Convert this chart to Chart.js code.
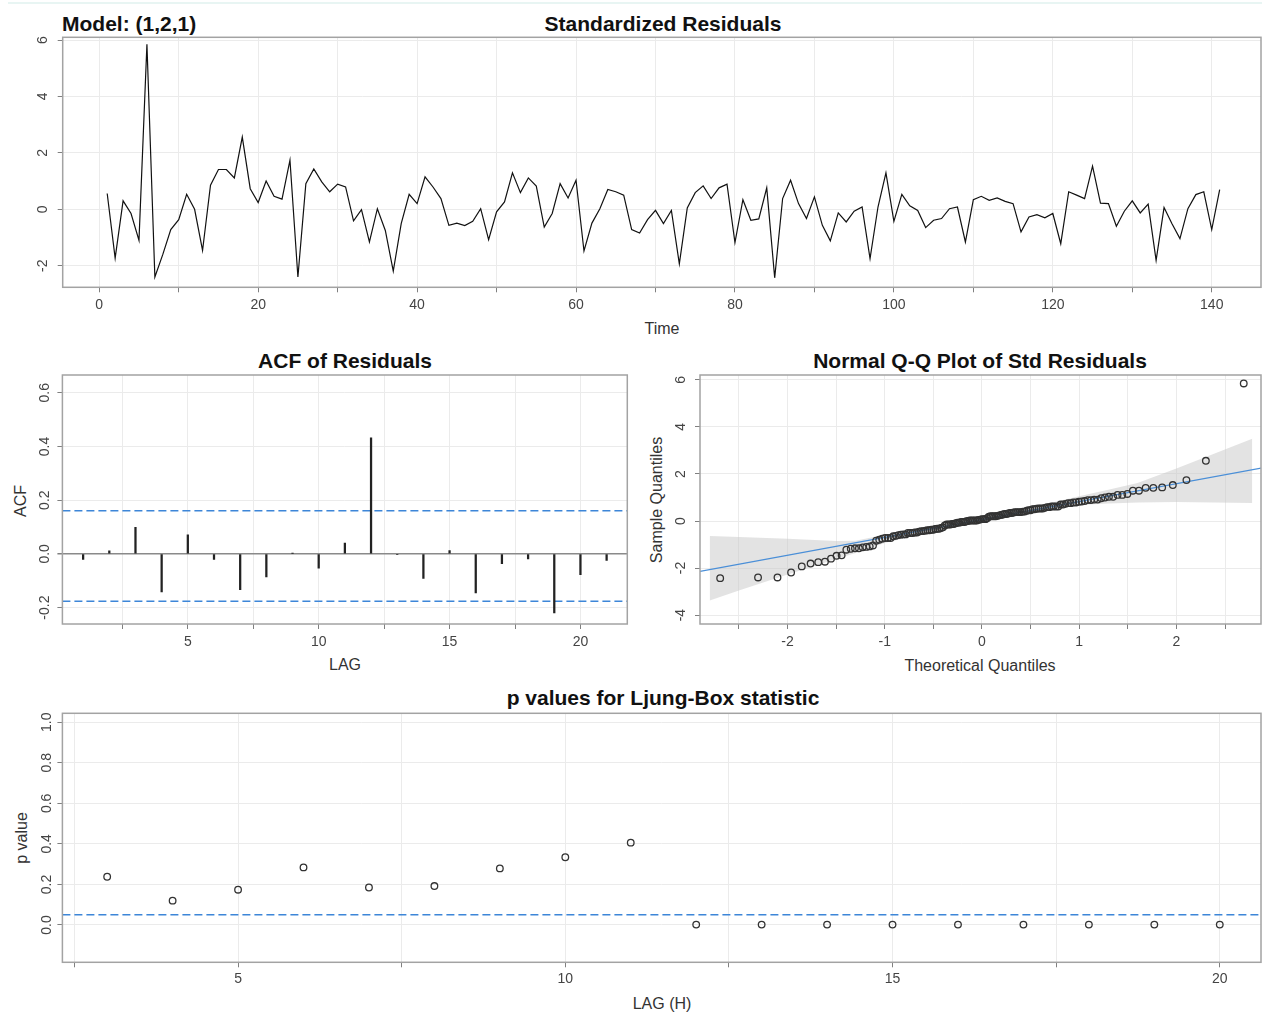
<!DOCTYPE html>
<html>
<head>
<meta charset="utf-8">
<script src="https://cdn.jsdelivr.net/npm/chart.js@4.4.1/dist/chart.umd.min.js"></script>
<style>
  html, body { margin: 0; padding: 0; background: #fff; }
  body { width: 1262px; height: 1015px; position: relative; overflow: hidden;
         font-family: "Liberation Sans", Arial, sans-serif; }
  canvas { position: absolute; }
  .lbl { position: absolute; white-space: nowrap; line-height: 1; transform: translate(-50%, -50%); }
  .ttl { font-weight: bold; font-size: 21px; color: #111; }
  .ax { font-size: 16px; color: #333; }
  .rot { transform: translate(-50%, -50%) rotate(-90deg); }
</style>
</head>
<body>
<div style="position:absolute;left:8px;top:2px;width:1254px;height:2px;background:#e8f5f3"></div>

<div class="lbl ttl" style="left:62px;top:23px;transform:translate(0,-50%)">Model: (1,2,1)</div>
<div class="lbl ttl" style="left:663px;top:23px">Standardized Residuals</div>
<div class="lbl ax" style="left:662px;top:329px">Time</div>

<div class="lbl ttl" style="left:345px;top:360px">ACF of Residuals</div>
<div class="lbl ax" style="left:345px;top:665px">LAG</div>
<div class="lbl ax rot" style="left:21px;top:501px">ACF</div>

<div class="lbl ttl" style="left:980px;top:360px">Normal Q-Q Plot of Std Residuals</div>
<div class="lbl ax" style="left:980px;top:666px">Theoretical Quantiles</div>
<div class="lbl ax rot" style="left:657px;top:500px">Sample Quantiles</div>

<div class="lbl ttl" style="left:663px;top:697px">p values for Ljung-Box statistic</div>
<div class="lbl ax" style="left:662px;top:1004px">LAG (H)</div>
<div class="lbl ax rot" style="left:22px;top:838px">p value</div>

<canvas id="cRes" width="1262" height="320" style="left:0;top:30px"></canvas>
<canvas id="cAcf" width="640" height="300" style="left:0;top:370px"></canvas>
<canvas id="cQQ" width="622" height="300" style="left:640px;top:370px"></canvas>
<canvas id="cLB" width="1262" height="300" style="left:0;top:705px"></canvas>

<script>
/* standardized residuals, t = 1..141 */
var residuals = [
  0.56, -1.73, 0.30, -0.15, -1.10, 5.85, -2.40, -1.60, -0.72, -0.37,
  0.53, 0.00, -1.46, 0.85, 1.41, 1.41, 1.11, 2.56, 0.73, 0.24,
  1.00, 0.46, 0.36, 1.74, -2.40, 0.91, 1.43, 0.97, 0.62, 0.89,
  0.79, -0.41, -0.01, -1.16, 0.02, -0.75, -2.19, -0.51, 0.53, 0.20,
  1.15, 0.79, 0.38, -0.57, -0.49, -0.58, -0.43, 0.02, -1.08, -0.09,
  0.26, 1.29, 0.59, 1.11, 0.82, -0.63, -0.15, 0.91, 0.40, 1.03,
  -1.48, -0.49, 0.02, 0.70, 0.62, 0.50, -0.72, -0.84, -0.37, -0.04,
  -0.51, -0.04, -1.93, 0.05, 0.59, 0.83, 0.38, 0.76, 0.89, -1.18,
  0.34, -0.39, -0.34, 0.76, -2.43, 0.38, 1.03, 0.20, -0.33, 0.44,
  -0.57, -1.12, -0.13, -0.45, -0.07, 0.08, -1.75, 0.08, 1.29, -0.43,
  0.53, 0.12, -0.04, -0.65, -0.39, -0.33, 0.02, 0.08, -1.16, 0.34,
  0.46, 0.32, 0.40, 0.28, 0.20, -0.80, -0.27, -0.19, -0.30, -0.15,
  -1.22, 0.62, 0.50, 0.38, 1.53, 0.22, 0.20, -0.60, -0.07, 0.30,
  -0.13, 0.18, -1.81, 0.06, -0.51, -1.04, 0.02, 0.52, 0.62, -0.72,
  0.70
];

/* ACF of residuals */
var acfLags = [1, 2, 3, 4, 5, 6, 7, 8, 9, 10, 11, 12, 13, 14, 15, 16, 17, 18, 19, 20, 21];
var acfValues = [-0.021, 0.011, 0.099, -0.142, 0.071, -0.021, -0.133, -0.086, 0.002, -0.053,
                 0.040, 0.432, -0.003, -0.091, 0.012, -0.145, -0.036, -0.019, -0.220, -0.077, -0.024];
var acfBounds = [0.161, -0.176];

/* Q-Q reference line and its grey band */
var qqLineX = [-2.90, 2.88];
var qqLineY = [-2.14, 2.26];
var bandX     = [-2.80, -2.5, -2.0, -1.5, -1.3, -1.0, -0.5, 0.0, 0.5, 1.0, 1.3, 1.6, 2.0, 2.4, 2.78];
var bandUpper = [-0.64, -0.68, -0.75, -0.85, -0.84, -0.58, -0.19, 0.18, 0.57, 1.05, 1.33, 1.62, 2.23, 2.88, 3.50];
var bandLower = [-3.38, -2.96, -2.28, -1.62, -1.36, -0.94, -0.42, 0.00, 0.36, 0.68, 0.75, 0.79, 0.81, 0.79, 0.77];

/* Ljung-Box p values */
var lbLags = [3, 4, 5, 6, 7, 8, 9, 10, 11, 12, 13, 14, 15, 16, 17, 18, 19, 20];
var lbPValues = [0.238, 0.120, 0.174, 0.284, 0.185, 0.192, 0.279, 0.334, 0.406,
                 0.002, 0.002, 0.002, 0.002, 0.002, 0.002, 0.002, 0.002, 0.002];
var lbLevel = 0.05;

var GRID = '#ebebeb', TICK = '#808080', FRAME = '#a3a3a3', INK = '#444', BLUE = '#3d86d8';
var tickFont = { family: 'Liberation Sans, Arial, sans-serif', size: 14 };

/* box around each plot area */
var framePlugin = {
  id: 'frame',
  afterDatasetsDraw: function (chart) {
    var a = chart.chartArea, ctx = chart.ctx;
    ctx.save();
    ctx.strokeStyle = FRAME;
    ctx.lineWidth = 1.5;
    ctx.strokeRect(a.left, a.top, a.right - a.left, a.bottom - a.top);
    ctx.restore();
  }
};

function onEvery(v, every) {
  return Math.abs(v / every - Math.round(v / every)) < 1e-9;
}

function xAxis(min, max, step, every, height, pad) {
  return {
    type: 'linear', min: min, max: max, offset: false,
    afterFit: function (s) { s.height = height; s.paddingLeft = 0; s.paddingRight = 0; },
    border: { display: false },
    grid: { color: GRID, tickColor: TICK, tickLength: 5, offset: false },
    ticks: {
      stepSize: step, includeBounds: false, autoSkip: false, maxRotation: 0,
      padding: pad, color: INK, font: tickFont,
      callback: function (v) { return onEvery(v, every) ? String(v) : ''; }
    }
  };
}

function yAxis(min, max, step, width, pad, digits, gridColor) {
  return {
    type: 'linear', min: min, max: max,
    afterFit: function (s) { s.width = width; s.paddingTop = 0; s.paddingBottom = 0; },
    border: { display: false },
    grid: { color: gridColor || GRID, tickColor: TICK, tickLength: 5,
            lineWidth: function (c) { return (gridColor && c.tick && c.tick.value === 0) ? 1.5 : 1; } },
    ticks: {
      stepSize: step, includeBounds: false, autoSkip: false,
      minRotation: 90, maxRotation: 90, crossAlign: 'center',
      padding: pad, color: INK, font: tickFont,
      callback: function (v) { return v.toFixed(digits); }
    }
  };
}

function makeChart(id, datasets, scales, padding) {
  return new Chart(document.getElementById(id), {
    type: 'scatter',
    data: { datasets: datasets },
    options: {
      responsive: false, animation: false, devicePixelRatio: 1,
      layout: { padding: padding, autoPadding: false },
      plugins: { legend: { display: false }, tooltip: { enabled: false } },
      scales: scales
    },
    plugins: [framePlugin]
  });
}

function hline(x0, x1, y, color, dash, width) {
  return {
    data: [{ x: x0, y: y }, { x: x1, y: y }],
    showLine: true, pointRadius: 0, borderColor: color, borderWidth: width || 1.5,
    borderDash: dash || []
  };
}

/* normal quantile (Acklam), used for the theoretical quantiles of the Q-Q plot */
function qnorm(p) {
  var a = [-39.69683028665376, 220.9460984245205, -275.9285104469687, 138.3577518672690, -30.66479806614716, 2.506628277459239];
  var b = [-54.47609879822406, 161.5858368580409, -155.6989798598866, 66.80131188771972, -13.28068155288572];
  var c = [-0.007784894002430293, -0.3223964580411365, -2.400758277161838, -2.549732539343734, 4.374664141464968, 2.938163982698783];
  var d = [0.007784695709041462, 0.3224671290700398, 2.445134137142996, 3.754408661907416];
  var q, r;
  if (p < 0.02425) {
    q = Math.sqrt(-2 * Math.log(p));
    return (((((c[0] * q + c[1]) * q + c[2]) * q + c[3]) * q + c[4]) * q + c[5]) /
           ((((d[0] * q + d[1]) * q + d[2]) * q + d[3]) * q + 1);
  }
  if (p > 1 - 0.02425) return -qnorm(1 - p);
  q = p - 0.5; r = q * q;
  return (((((a[0] * r + a[1]) * r + a[2]) * r + a[3]) * r + a[4]) * r + a[5]) * q /
         (((((b[0] * r + b[1]) * r + b[2]) * r + b[3]) * r + b[4]) * r + 1);
}

/* ---- standardized residuals ---- */
var resPoints = residuals.map(function (v, i) { return { x: i + 1, y: v }; });
makeChart('cRes', [
  { data: resPoints, showLine: true, pointRadius: 0, borderColor: '#111', borderWidth: 1.2 }
], {
  x: xAxis(-4.6, 146.2, 10, 20, 62.7, 4),
  y: yAxis(-2.766, 6.096, 2, 62.7, 8.5, 0)
}, { top: 7.3, right: 1, left: 0, bottom: 0 });

/* ---- ACF ---- */
var acfMin = 0.208, acfMax = 21.79;
makeChart('cAcf', [
  { type: 'bar', data: acfLags.map(function (l, i) { return { x: l, y: acfValues[i] }; }),
    backgroundColor: '#222', borderWidth: 0, barThickness: 1.6, order: 0 },
  Object.assign(hline(acfMin, acfMax, acfBounds[0], BLUE, [8, 4]), { order: 1 }),
  Object.assign(hline(acfMin, acfMax, acfBounds[1], BLUE, [8, 4]), { order: 1 })
], {
  x: xAxis(acfMin, acfMax, 2.5, 5, 46, 5),
  y: yAxis(-0.261, 0.666, 0.2, 62.4, 0, 1,
           function (c) { return c.tick && c.tick.value === 0 ? '#8a8a8a' : GRID; })
}, { top: 5, right: 12.7, left: 0, bottom: 0 });

/* ---- Normal Q-Q ---- */
var sorted = residuals.slice().sort(function (a, b) { return a - b; });
var n = sorted.length;
var qqPoints = sorted.map(function (v, i) { return { x: qnorm((i + 0.5) / n), y: v }; });
makeChart('cQQ', [
  { data: qqPoints, pointRadius: 3.3, pointBorderWidth: 1.3, pointBorderColor: '#333',
    pointBackgroundColor: 'rgba(0,0,0,0)', order: 0 },
  { data: qqLineX.map(function (x, i) { return { x: x, y: qqLineY[i] }; }),
    showLine: true, pointRadius: 0, borderColor: '#4a8fd8', borderWidth: 1.2, order: 1 },
  { data: bandX.map(function (x, i) { return { x: x, y: bandUpper[i] }; }),
    showLine: true, pointRadius: 0, borderWidth: 0, borderColor: 'rgba(0,0,0,0)', fill: false, order: 2 },
  { data: bandX.map(function (x, i) { return { x: x, y: bandLower[i] }; }),
    showLine: true, pointRadius: 0, borderWidth: 0, borderColor: 'rgba(0,0,0,0)',
    fill: '-1', backgroundColor: 'rgba(200,200,200,0.5)', order: 3 }
], {
  x: xAxis(-2.90, 2.87, 0.5, 1, 46, 5),
  y: yAxis(-4.38, 6.21, 2, 60, 7.8, 0)
}, { top: 5, right: 1, left: 0, bottom: 0 });

/* ---- Ljung-Box ---- */
var lbMin = 2.316, lbMax = 20.63;
makeChart('cLB', [
  { data: lbLags.map(function (l, i) { return { x: l, y: lbPValues[i] }; }),
    pointRadius: 3.3, pointBorderWidth: 1.3, pointBorderColor: '#333',
    pointBackgroundColor: 'rgba(0,0,0,0)', order: 0 },
  Object.assign(hline(lbMin, lbMax, lbLevel, BLUE, [8, 4]), { order: 1 })
], {
  x: xAxis(lbMin, lbMax, 2.5, 5, 42.7, 3),
  y: yAxis(-0.184, 1.044, 0.2, 62.4, 0.7, 1)
}, { top: 8.3, right: 1, left: 0, bottom: 0 });
</script>
</body>
</html>
